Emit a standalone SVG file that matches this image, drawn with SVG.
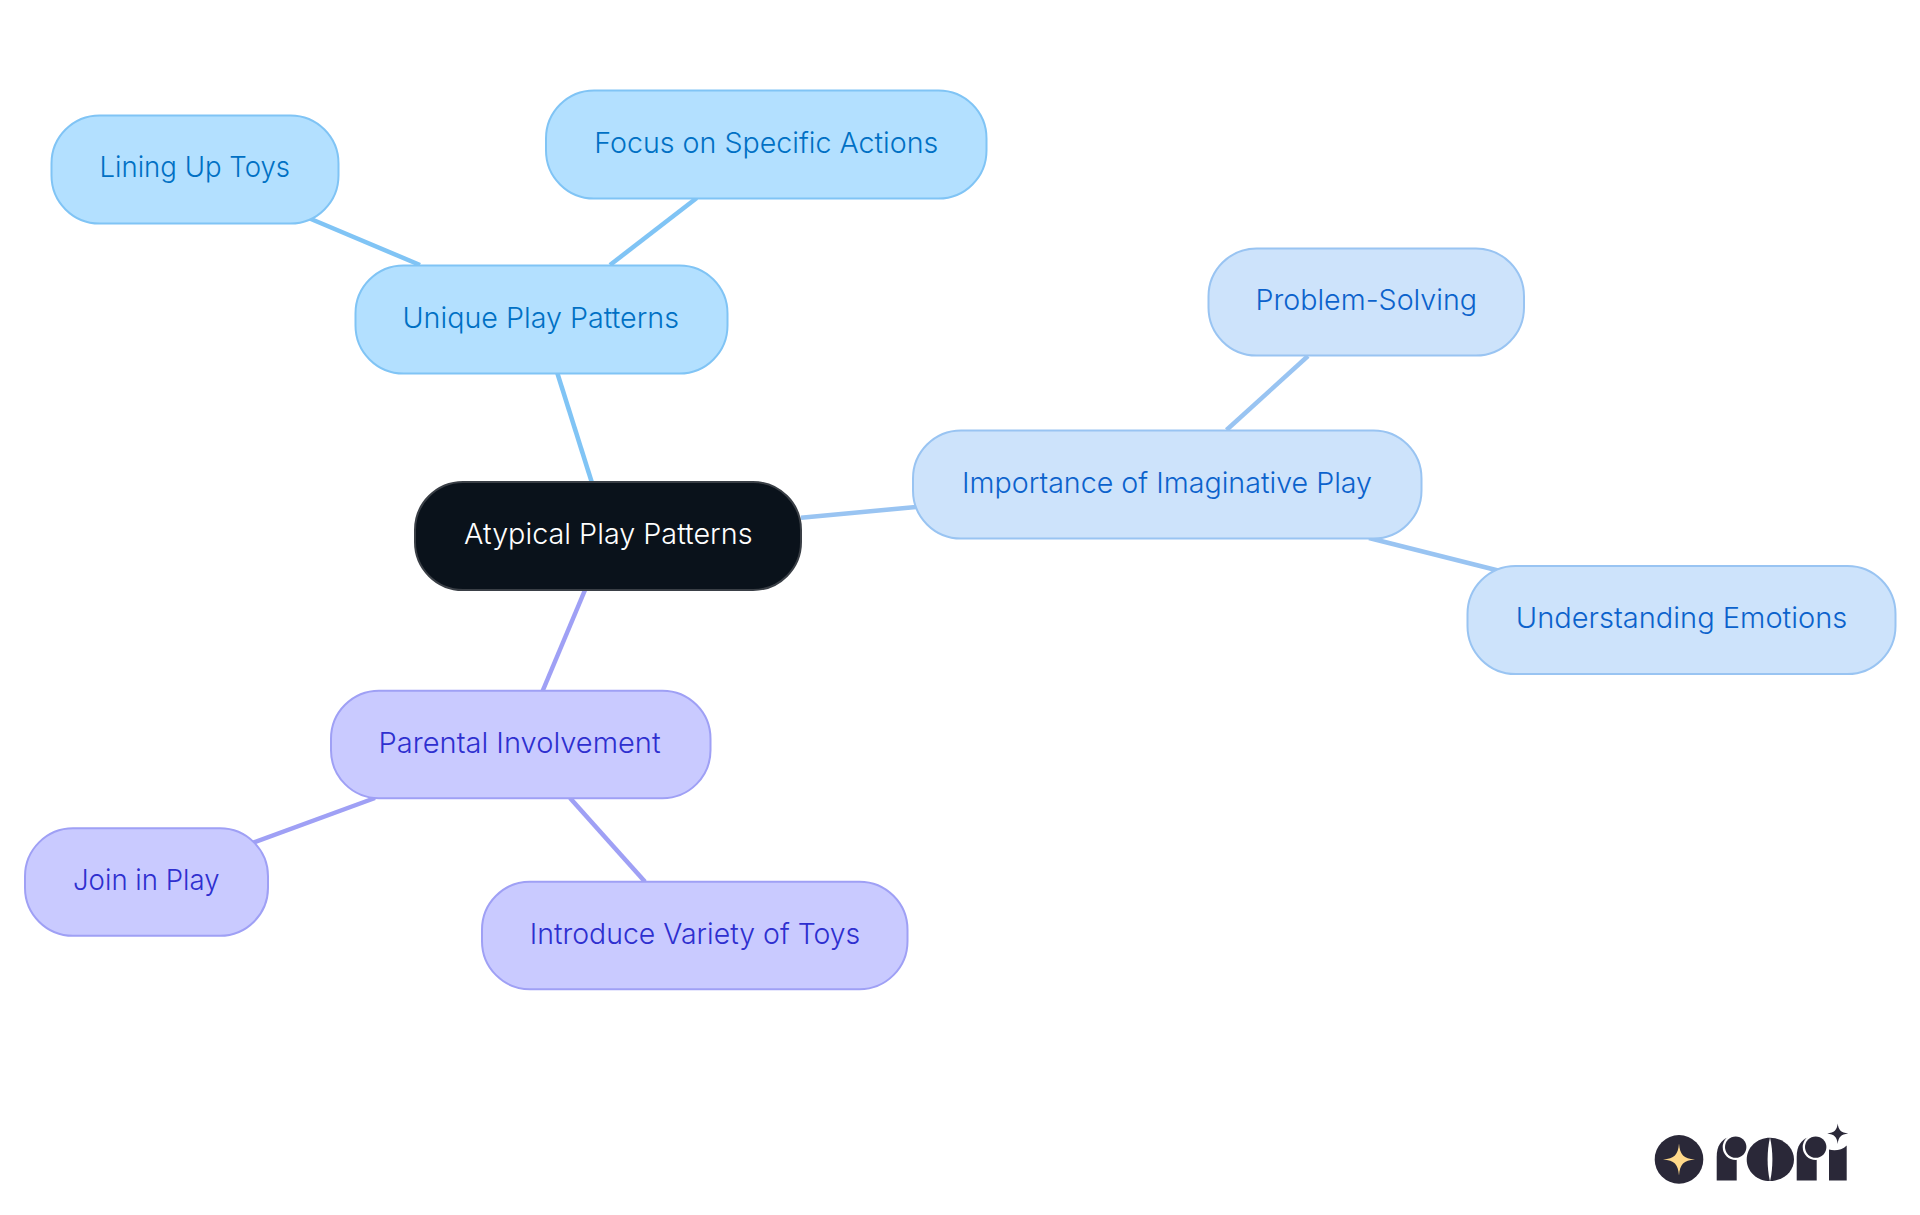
<svg xmlns="http://www.w3.org/2000/svg" width="1920" height="1215" viewBox="0 0 1920 1215">
<style>
.n rect{stroke-width:2;}
.n text{font-family:"Inter","Noto Sans","Liberation Sans",sans-serif;font-size:29px;font-weight:350;}
.c line{stroke-width:4.5;fill:none;}
.a rect{fill:#b3e0ff;stroke:#80c4f5;}
.a text{fill:#0070c4;}
.b rect{fill:#cde3fb;stroke:#99c4f2;}
.b text{fill:#0b62cc;}
.d rect{fill:#c9caff;stroke:#9fa0f5;}
.d text{fill:#2e2fcf;}
.r rect{fill:#0a121b;stroke:#3a3f46;}
.r text{fill:#ffffff;}
.ca{stroke:#80c4f5;}
.cb{stroke:#99c4f2;}
.cd{stroke:#9fa0f5;}
.lg{fill:#2a2838;}
</style>
<rect x="0" y="0" width="1920" height="1215" fill="#ffffff"/>
<g id="connectors" class="c">
<line class="ca" x1="557.3" y1="373" x2="591.7" y2="482"/>
<line class="ca" x1="305" y1="216.500" x2="420" y2="265"/>
<line class="ca" x1="696.7" y1="198" x2="610" y2="265"/>
<line class="cb" x1="801" y1="517.7" x2="916" y2="507"/>
<line class="cb" x1="1308" y1="356" x2="1226.5" y2="430"/>
<line class="cb" x1="1369" y1="538" x2="1500" y2="571"/>
<line class="cd" x1="585" y1="590" x2="542.6" y2="691"/>
<line class="cd" x1="375" y1="798" x2="249" y2="844.200"/>
<line class="cd" x1="570" y1="798" x2="645" y2="881.7"/>
</g>
<g id="node-root" class="n r"><rect x="415" y="482" width="386" height="108" rx="48"/><text x="464" y="544" textLength="288.500" lengthAdjust="spacingAndGlyphs">Atypical Play Patterns</text></g>
<g id="node-unique" class="n a"><rect x="355.5" y="265.5" width="372" height="108" rx="48"/><text x="402.500" y="328.3" textLength="276.500" lengthAdjust="spacingAndGlyphs">Unique Play Patterns</text></g>
<g id="node-lining" class="n a"><rect x="51.5" y="115.5" width="287" height="108" rx="48"/><text x="99.500" y="177.3" textLength="190.500" lengthAdjust="spacingAndGlyphs">Lining Up Toys</text></g>
<g id="node-focus" class="n a"><rect x="546" y="90.5" width="440.500" height="108" rx="48"/><text x="594.300" y="152.700" textLength="344" lengthAdjust="spacingAndGlyphs">Focus on Specific Actions</text></g>
<g id="node-importance" class="n b"><rect x="913" y="430.500" width="508.500" height="108" rx="48"/><text x="962" y="492.700" textLength="410" lengthAdjust="spacingAndGlyphs">Importance of Imaginative Play</text></g>
<g id="node-problem" class="n b"><rect x="1208.500" y="248.500" width="315.500" height="107" rx="48"/><text x="1255.500" y="310.300" textLength="221.500" lengthAdjust="spacingAndGlyphs">Problem-Solving</text></g>
<g id="node-understanding" class="n b"><rect x="1467.500" y="566" width="428" height="108" rx="48"/><text x="1515.800" y="627.700" textLength="331.500" lengthAdjust="spacingAndGlyphs">Understanding Emotions</text></g>
<g id="node-parental" class="n d"><rect x="331" y="690.700" width="379.500" height="107.500" rx="48"/><text x="378.600" y="752.700" textLength="282" lengthAdjust="spacingAndGlyphs">Parental Involvement</text></g>
<g id="node-join" class="n d"><rect x="25" y="828.300" width="243" height="107.500" rx="48"/><text x="73" y="890.300" textLength="146.500" lengthAdjust="spacingAndGlyphs">Join in Play</text></g>
<g id="node-introduce" class="n d"><rect x="482" y="881.700" width="425.500" height="107.500" rx="48"/><text x="529.800" y="944.300" textLength="330.500" lengthAdjust="spacingAndGlyphs">Introduce Variety of Toys</text></g>
<g id="logo" transform="translate(0 -0.600)">
<circle class="lg" cx="1679" cy="1160" r="24.300"/>
<path fill="#ffd98a" d="M1679 1144C1680 1155.500 1683.500 1159 1695 1160C1683.500 1161 1680 1164.500 1679 1176C1678 1164.500 1674.500 1161 1663 1160C1674.500 1159 1678 1155.500 1679 1144Z"/>
<path class="lg" d="M1716.700 1181V1157C1716.700 1147 1721 1140 1729 1137.500L1736.700 1150V1181Z"/>
<circle fill="#ffffff" cx="1735.700" cy="1147.700" r="13"/>
<circle class="lg" cx="1735.700" cy="1147.700" r="10.700"/>
<path class="lg" d="M1770 1138.300C1783 1138.300 1794 1148 1794 1160C1794 1172 1783 1181.700 1770 1181.700C1757 1181.700 1746.700 1172 1746.700 1160C1746.700 1148 1757 1138.300 1770 1138.300Z"/>
<path fill="#ffffff" d="M1770 1138C1773.200 1152 1773.200 1168 1770 1182C1766.800 1168 1766.800 1152 1770 1138Z"/>
<path class="lg" d="M1796.700 1181V1157C1796.700 1147 1801 1140 1809 1137.500L1816.700 1150V1181Z"/>
<circle fill="#ffffff" cx="1815.700" cy="1147.700" r="13"/>
<circle class="lg" cx="1815.700" cy="1147.700" r="10.700"/>
<path class="lg" d="M1829 1181V1150C1834 1151.500 1842 1151 1846.700 1146V1181Z"/>
<path class="lg" d="M1837.700 1124C1838.500 1130.500 1841 1133.200 1848.200 1134C1841 1134.800 1838.500 1137.500 1837.700 1144.500C1836.900 1137.500 1834.400 1134.800 1827.200 1134C1834.400 1133.200 1836.900 1130.500 1837.700 1124Z"/>
</g>
</svg>
